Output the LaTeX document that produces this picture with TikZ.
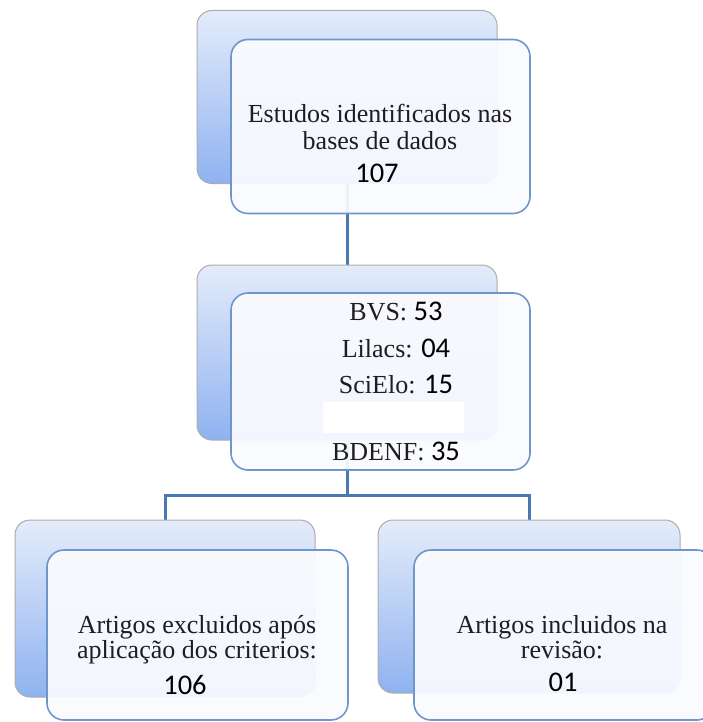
\documentclass[tikz,border=0pt]{standalone}
\usepackage{fontspec}
\setmainfont{Liberation Serif}
\newfontfamily\numfont{Carlito}
\usetikzlibrary{backgrounds}
\definecolor{linec}{HTML}{4A78B5}
\definecolor{backtop}{HTML}{E4ECFA}
\definecolor{backbot}{HTML}{8FB2F0}
\definecolor{frontfill}{HTML}{FAFBFE}
\definecolor{frontline}{HTML}{6F96CA}
\definecolor{txt}{HTML}{1E1E1E}
\tikzset{
  backbox/.style={rounded corners=15pt, draw=gray!65, line width=1pt,
    top color=backtop, bottom color=backbot, inner sep=0pt},
  frontbox/.style={rounded corners=17pt, draw=frontline, line width=1.6pt,
    fill=frontfill, fill opacity=0.93, inner sep=0pt},
  conn/.style={draw=linec, line width=3pt},
  lbl/.style={font=\fontsize{26}{27}\selectfont, text=txt, inner sep=0pt, align=center},
  num/.style={font=\numfont\fontsize{28.5}{30}\selectfont, text=black, inner sep=0pt},
}
\newcommand{\nm}[1]{{\numfont\fontsize{28.5}{30}\selectfont\color{black}#1}}
\begin{document}
\begin{tikzpicture}[x=1pt,y=-1pt]
\useasboundingbox (0,0) rectangle (702,722);
% top
\node[backbox, minimum width=300pt, minimum height=173pt] (tb) at (347,97) {};
\node[frontbox, minimum width=299pt, minimum height=174pt] (tf) at (380.5,126.5) {};
\node[lbl] (tt) at (380,126.5) {Estudos identificados nas\\bases de dados};
\node[num] (tn) at (377,173) {107};
% middle
\node[backbox, minimum width=300pt, minimum height=175pt] (mb) at (347,352.5) {};
\node[frontbox, minimum width=299pt, minimum height=177pt] (mf) at (380.5,381.5) {};
\node[fill=white, inner sep=0pt, minimum width=141pt, minimum height=31pt] (mask) at (393.5,417.5) {};
\node[lbl, anchor=base] (m1) at (396,320) {BVS: \nm{53}};
\node[lbl, anchor=base] (m2) at (396,357) {Lilacs: \nm{04}};
\node[lbl, anchor=base] (m3) at (396,393) {SciElo: \nm{15}};
\node[lbl, anchor=base] (m4) at (396,460) {BDENF: \nm{35}};
% bottom left
\node[backbox, minimum width=300pt, minimum height=177pt] (lb) at (165,608.5) {};
\node[frontbox, minimum width=301pt, minimum height=170pt] (lf) at (197.5,635) {};
\node[lbl, font=\fontsize{26}{25}\selectfont] (lt) at (197,639.5) {Artigos excluidos após\\aplicação dos criterios:};
\node[num] (ln) at (185,685) {106};
% bottom right
\node[backbox, minimum width=302pt, minimum height=173pt] (rb) at (529,606.5) {};
\node[frontbox, minimum width=300pt, minimum height=170pt] (rf) at (564,635) {};
\node[lbl, font=\fontsize{26}{25}\selectfont] (rt) at (562,637.5) {Artigos incluidos na\\revisão:};
\node[num] (rn) at (563,682) {01};
% connectors
\begin{scope}[on background layer]
\coordinate (j) at (347,495);
\draw[conn] (tb.south) -- (mb.north);
\draw[conn] (mb.south) -- (j);
\draw[conn] (j) -| (lb.north);
\draw[conn] (j) -| (rb.north);
\end{scope}
\end{tikzpicture}
\end{document}
